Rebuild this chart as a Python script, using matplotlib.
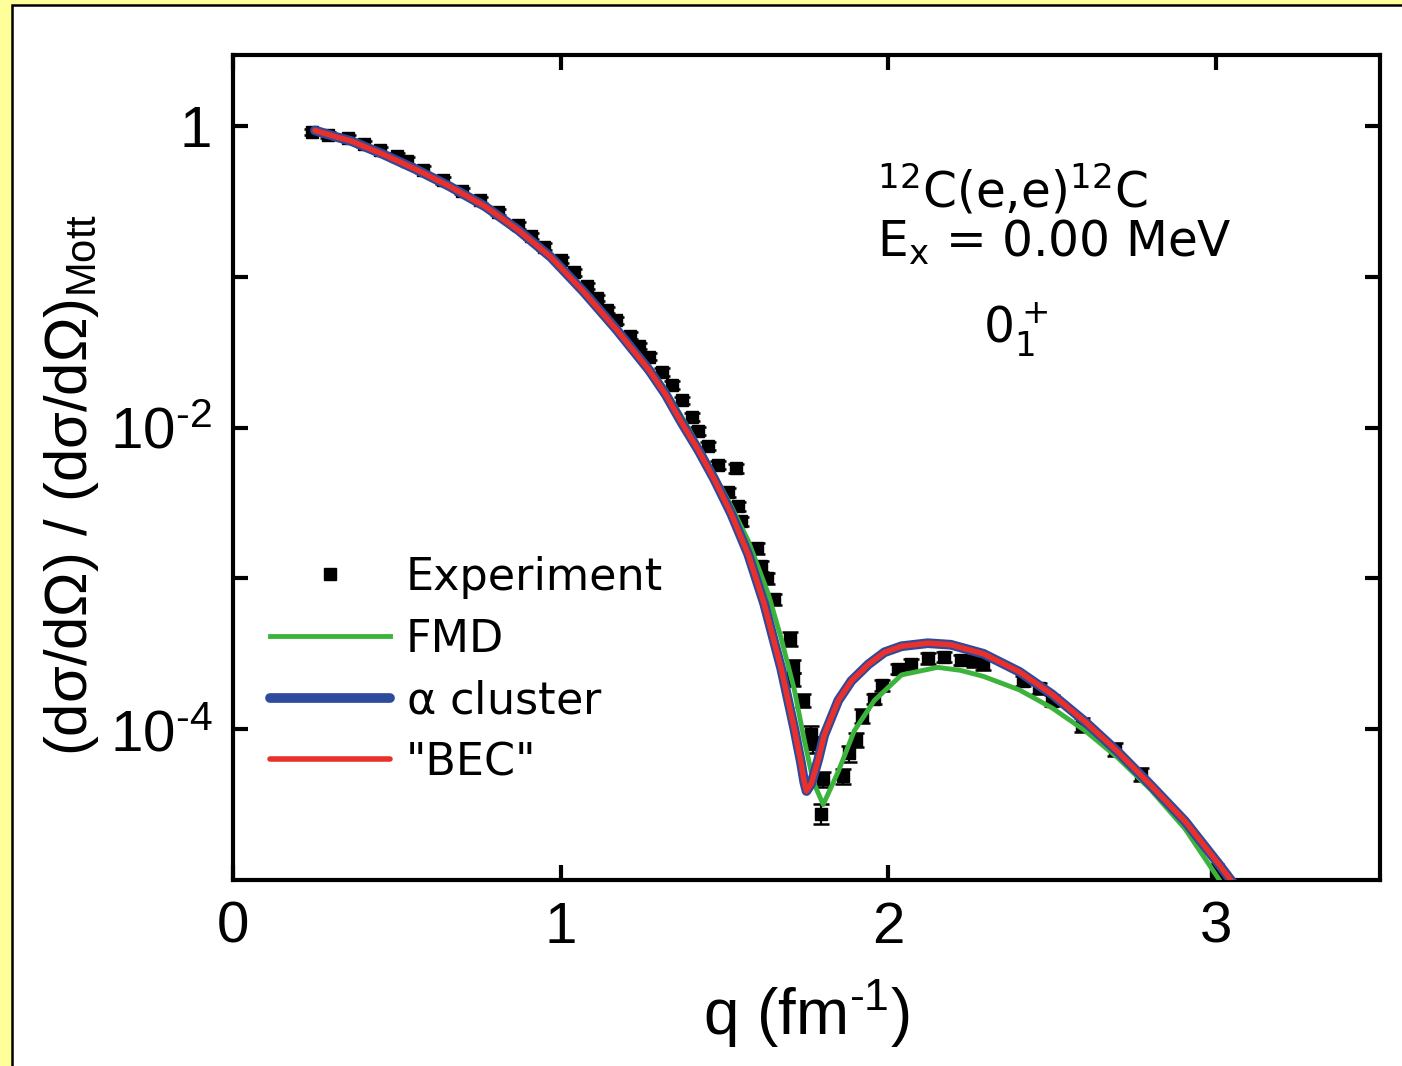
import matplotlib
matplotlib.use("Agg")
import matplotlib.pyplot as plt
from matplotlib.patches import Rectangle
from matplotlib.font_manager import FontProperties
import numpy as np

plt.rcParams["font.family"] = "Liberation Sans"
plt.rcParams["mathtext.fontset"] = "custom"
plt.rcParams["mathtext.rm"] = "Liberation Sans"
plt.rcParams["mathtext.it"] = "Liberation Sans:italic"
plt.rcParams["mathtext.default"] = "regular"

# --- data (q in fm^-1, log10 of the cross-section ratio)
exp_q = [0.24, 0.29, 0.35, 0.40, 0.45, 0.50, 0.53, 0.58, 0.64, 0.70, 0.755,
         0.81, 0.87, 0.91, 0.95, 1.00, 1.04, 1.08, 1.11, 1.14, 1.17, 1.21,
         1.24, 1.27, 1.31, 1.34, 1.37, 1.40, 1.42, 1.45, 1.48, 1.51, 1.535,
         1.54, 1.55, 1.60, 1.61, 1.63, 1.65, 1.70, 1.71, 1.71, 1.74, 1.765,
         1.77, 1.80, 1.795, 1.86, 1.88, 1.90, 1.92, 1.955, 1.98, 2.03, 2.07,
         2.12, 2.17, 2.22, 2.26, 2.29, 2.41, 2.46, 2.50, 2.59, 2.69, 2.77, 3.00]
exp_log = [-0.04, -0.06, -0.08, -0.12, -0.16, -0.20, -0.23, -0.29, -0.36,
           -0.43, -0.49, -0.57, -0.66, -0.73, -0.80, -0.89, -0.97, -1.06,
           -1.14, -1.22, -1.29, -1.39, -1.46, -1.53, -1.63, -1.72, -1.82,
           -1.93, -2.02, -2.12, -2.25, -2.43, -2.27, -2.52, -2.62, -2.80,
           -2.92, -3.00, -3.14, -3.40, -3.58, -3.67, -3.81, -4.03, -4.10,
           -4.33, -4.56, -4.31, -4.16, -4.07, -3.91, -3.80, -3.71, -3.60,
           -3.57, -3.53, -3.52, -3.54, -3.55, -3.57, -3.68, -3.73, -3.81,
           -3.97, -4.13, -4.30, -4.94]
# relative errors
exp_err = [0.05, 0.05, 0.05, 0.05, 0.05, 0.05, 0.05, 0.05, 0.05, 0.05, 0.05,
           0.05, 0.05, 0.05, 0.05, 0.05, 0.05, 0.05, 0.05, 0.05, 0.05, 0.05,
           0.05, 0.05, 0.06, 0.06, 0.06, 0.06, 0.06, 0.06, 0.06, 0.07, 0.07,
           0.07, 0.07, 0.08, 0.08, 0.08, 0.08, 0.10, 0.10, 0.10, 0.10, 0.12,
           0.12, 0.12, 0.15, 0.12, 0.12, 0.10, 0.10, 0.08, 0.08, 0.08, 0.08,
           0.08, 0.08, 0.08, 0.08, 0.08, 0.08, 0.08, 0.08, 0.10, 0.10, 0.10,
           0.12]

alpha_q = [0.25, 0.31, 0.36, 0.46, 0.56, 0.66, 0.77, 0.87, 0.97, 1.07, 1.17,
           1.27, 1.32, 1.367, 1.42, 1.468, 1.52, 1.572, 1.621, 1.673, 1.713,
           1.733, 1.743, 1.75, 1.765, 1.786, 1.804, 1.847, 1.887, 1.939,
           1.988, 2.04, 2.12, 2.19, 2.29, 2.40, 2.50, 2.60, 2.70, 2.80,
           2.905, 3.01, 3.055]
alpha_log = [-0.03, -0.07, -0.10, -0.19, -0.29, -0.40, -0.535, -0.69, -0.87,
             -1.10, -1.35, -1.62, -1.78, -1.96, -2.15, -2.34, -2.57, -2.84,
             -3.17, -3.60, -4.00, -4.22, -4.35, -4.41, -4.36, -4.20, -4.04,
             -3.81, -3.68, -3.57, -3.49, -3.45, -3.43, -3.44, -3.50, -3.62,
             -3.77, -3.95, -4.15, -4.37, -4.61, -4.90, -5.03]

bec_q = [0.25, 0.31, 0.36, 0.46, 0.56, 0.66, 0.77, 0.87, 0.97, 1.07, 1.17,
         1.27, 1.32, 1.367, 1.42, 1.468, 1.52, 1.572, 1.621, 1.673, 1.713,
         1.733, 1.743, 1.75, 1.765, 1.786, 1.804, 1.847, 1.887, 1.939,
         1.988, 2.04, 2.12, 2.19, 2.29, 2.40, 2.50, 2.60, 2.70, 2.80,
         2.905, 3.01, 3.055]
bec_log = [-0.03, -0.07, -0.10, -0.19, -0.29, -0.40, -0.535, -0.69, -0.87,
           -1.10, -1.35, -1.62, -1.78, -1.96, -2.15, -2.34, -2.57, -2.84,
           -3.17, -3.60, -4.00, -4.22, -4.35, -4.41, -4.36, -4.20, -4.04,
           -3.81, -3.68, -3.57, -3.49, -3.45, -3.43, -3.44, -3.50, -3.62,
           -3.77, -3.95, -4.15, -4.37, -4.61, -4.90, -5.03]

fmd_q = [0.25, 0.31, 0.36, 0.46, 0.56, 0.66, 0.77, 0.87, 0.97, 1.07, 1.17,
         1.27, 1.32, 1.38, 1.42, 1.468, 1.52, 1.572, 1.633, 1.673, 1.713,
         1.743, 1.771, 1.801, 1.847, 1.896, 1.957, 2.04, 2.15, 2.22, 2.29,
         2.40, 2.50, 2.60, 2.70, 2.80, 2.905, 3.01]
fmd_log = [-0.03, -0.07, -0.10, -0.19, -0.29, -0.40, -0.535, -0.685, -0.86,
           -1.09, -1.34, -1.60, -1.75, -1.97, -2.12, -2.31, -2.52, -2.75,
           -3.10, -3.40, -3.74, -4.07, -4.35, -4.50, -4.28, -4.01, -3.81,
           -3.64, -3.59, -3.61, -3.65, -3.74, -3.86, -4.01, -4.19, -4.40,
           -4.66, -5.00]

yticks = [1, 1e-1, 1e-2, 1e-3, 1e-4]
ytick_labels = ["1", "", r"$10^{\text{-}2}$", "", r"$10^{\text{-}4}$"]
xticks = [0, 1, 2, 3]

green = "#3cb43c"
blue = "#2d4a9c"
red = "#e8302c"

W, H = 1402, 1066


def px(x, y):
    return x / W, 1 - y / H


fig = plt.figure(figsize=(W / 100, H / 100), dpi=100)
fig.patch.set_facecolor("#ffff99")
fig.patches.append(Rectangle(px(12, 1070), 1.1, (1066 - 5 + 4) / H,
                             transform=fig.transFigure, facecolor="white",
                             edgecolor="black", linewidth=1.8, zorder=-10))

ax = fig.add_axes([233 / W, 1 - 880 / H, (1380 - 233) / W, (880 - 55) / H])
ax.set_yscale("log")
ax.patch.set_alpha(0)

ey = 10 ** np.array(exp_log)
ax.errorbar(exp_q, ey, yerr=ey * np.array(exp_err), fmt="none",
            ecolor="black", elinewidth=1.6, capsize=6, capthick=1.8, zorder=2)
ax.plot(exp_q, ey, "s", color="black", markersize=9, linestyle="none",
        label="Experiment", zorder=2)
ax.plot(fmd_q, 10 ** np.array(fmd_log), color=green, lw=3.5, label="FMD",
        zorder=3)
ax.plot(alpha_q, 10 ** np.array(alpha_log), color=blue, lw=7,
        label=r"$\alpha$ cluster", solid_capstyle="round",
        solid_joinstyle="round", zorder=4)
ax.plot(bec_q, 10 ** np.array(bec_log), color=red, lw=4, label='"BEC"',
        solid_capstyle="round", solid_joinstyle="round", zorder=5)

ax.set_xlim(0, 3.5)
ax.set_ylim(1e-5, 10 ** 0.47)
ax.set_xticks(xticks)
ax.set_xticklabels([str(t) for t in xticks])
ax.set_yticks(yticks)
ax.set_yticklabels(ytick_labels)
ax.yaxis.set_minor_locator(plt.NullLocator())

for s in ax.spines.values():
    s.set_linewidth(3)
ax.tick_params(which="major", direction="in", length=11, width=3,
               top=True, right=True, labelsize=42)
ax.tick_params(axis="y", pad=15)
ax.tick_params(axis="x", pad=15)

fig.text(*px(72, 485), "(dσ/dΩ) / (dσ/dΩ)$_{Mott}$", rotation=90,
         ha="center", va="center", fontsize=43)
fig.text(*px(806, 1014), r"q (fm$^{\text{-}1}$)", ha="center", va="center",
         fontsize=46)

note = FontProperties(family="DejaVu Sans", size=35,
                      math_fontfamily="dejavusans")
fig.text(*px(877, 208), r"$^{12}$C(e,e)$^{12}$C", fontproperties=note,
         va="baseline")
fig.text(*px(877, 257), r"E$_{x}$ = 0.00 MeV", fontproperties=note,
         va="baseline")
fig.text(*px(983, 343), r"$0_1^+$", fontproperties=note, va="baseline")

leg_font = FontProperties(family="DejaVu Sans", size=32,
                          math_fontfamily="dejavuserif")
ax.legend(loc="upper left", bbox_to_anchor=px(270, 556),
          bbox_transform=fig.transFigure, frameon=False, borderpad=0,
          borderaxespad=0, prop=leg_font, handlelength=2.7,
          handletextpad=0.35, labelspacing=0.42, numpoints=1)

fig.savefig("out.png", dpi=100, facecolor=fig.get_facecolor())
